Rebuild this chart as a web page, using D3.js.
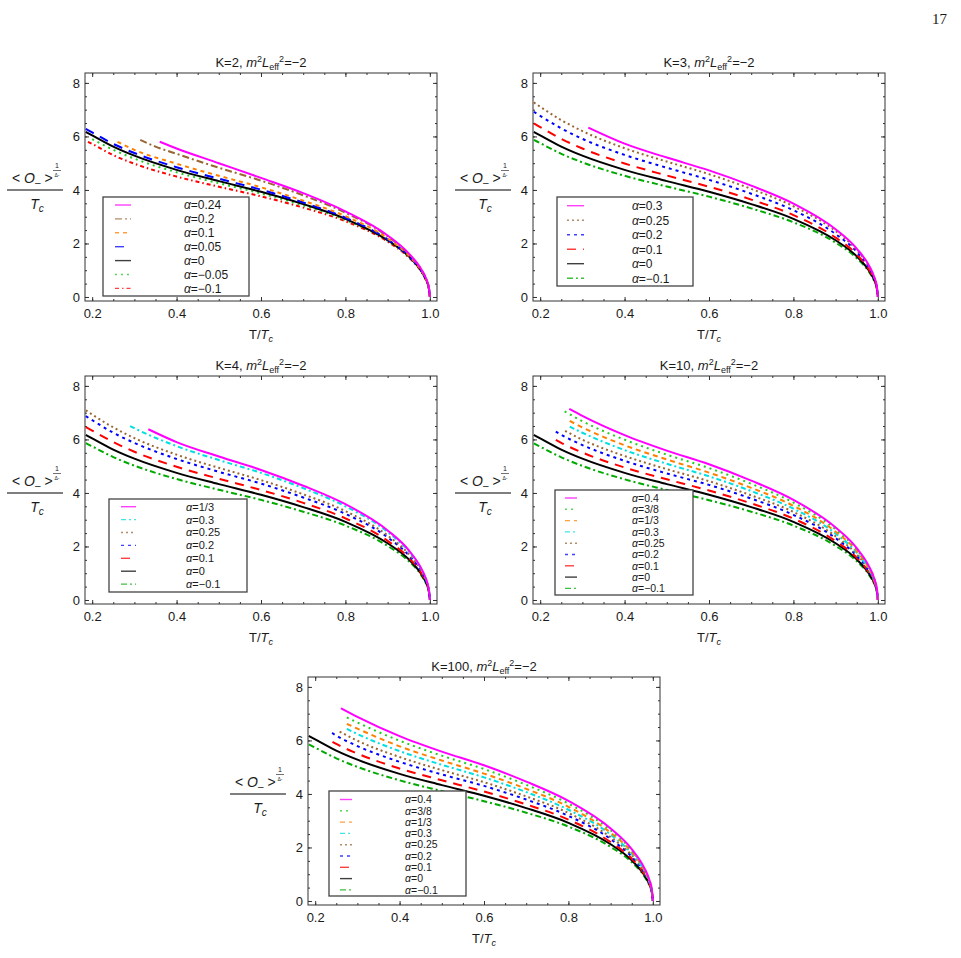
<!DOCTYPE html>
<html>
<head>
<meta charset="utf-8">
<script src="https://cdn.jsdelivr.net/npm/d3@7"></script>
<style>
body { margin: 0; background: #fff; }
svg text { font-family: "Liberation Sans", Arial, sans-serif; fill: #1a1a1a; }
</style>
</head>
<body>
<svg id="chart" width="961" height="958"></svg>
<script>
// ticks
var xTicks = [0.2, 0.4, 0.6, 0.8, 1.0];
var yTicks = [0, 2, 4, 6, 8];

// alpha = 0 curve (same in every panel)
var alpha0 = [[0.185,6.17],[0.2,6.04],[0.25,5.62],[0.3,5.28],[0.4,4.75],[0.5,4.33],[0.6,3.93],[0.7,3.47],[0.8,2.92],[0.9,2.12],[0.95,1.52],[0.98,0.96],[0.99,0.68],[0.998,0.3],[1,0]];

// K=2
var k2_a024 = [[0.36,5.8],[0.4,5.55],[0.5,5.0],[0.6,4.45],[0.7,3.88],[0.8,3.2],[0.9,2.3],[0.95,1.63],[0.98,1.03],[0.99,0.73],[0.998,0.33],[1,0]];
var k2_a02 = [[0.314,5.87],[0.35,5.62],[0.4,5.35],[0.5,4.83],[0.6,4.35],[0.7,3.8],[0.8,3.15],[0.9,2.27],[0.95,1.6],[0.98,1.01],[0.99,0.72],[0.998,0.32],[1,0]];
var k2_a01 = [[0.26,5.8],[0.3,5.5],[0.4,4.98],[0.5,4.53],[0.6,4.1],[0.7,3.6],[0.8,3.02],[0.9,2.19],[0.95,1.55],[0.98,0.98],[0.99,0.7],[0.998,0.31],[1,0]];
var k2_a005 = [[0.185,6.28],[0.2,6.15],[0.25,5.72],[0.3,5.38],[0.4,4.85],[0.5,4.42],[0.6,4.01],[0.7,3.53],[0.8,2.96],[0.9,2.15],[0.95,1.53],[0.98,0.97],[0.99,0.69],[0.998,0.3],[1,0]];
var k2_am005 = [[0.2,5.9],[0.25,5.5],[0.3,5.17],[0.4,4.66],[0.5,4.25],[0.6,3.87],[0.7,3.42],[0.8,2.88],[0.9,2.1],[0.95,1.5],[0.98,0.95],[0.99,0.67],[0.998,0.3],[1,0]];
var k2_am01 = [[0.19,5.8],[0.2,5.72],[0.25,5.3],[0.3,4.98],[0.4,4.5],[0.5,4.12],[0.6,3.76],[0.7,3.34],[0.8,2.83],[0.9,2.07],[0.95,1.48],[0.98,0.94],[0.99,0.66],[0.998,0.29],[1,0]];

// K=3
var k3_a03 = [[0.314,6.33],[0.4,5.73],[0.5,5.21],[0.6,4.73],[0.7,4.16],[0.8,3.49],[0.9,2.53],[0.95,1.81],[0.98,1.15],[0.99,0.81],[0.998,0.36],[1,0]];
var k3_a025 = [[0.185,7.27],[0.2,7.11],[0.25,6.61],[0.3,6.2],[0.4,5.56],[0.5,5.06],[0.6,4.59],[0.7,4.04],[0.8,3.39],[0.9,2.46],[0.95,1.76],[0.98,1.11],[0.99,0.79],[0.998,0.35],[1,0]];
var k3_a02 = [[0.185,6.92],[0.2,6.77],[0.25,6.3],[0.3,5.91],[0.4,5.31],[0.5,4.83],[0.6,4.38],[0.7,3.86],[0.8,3.24],[0.9,2.35],[0.95,1.69],[0.98,1.07],[0.99,0.76],[0.998,0.33],[1,0]];
var k3_a01 = [[0.185,6.49],[0.2,6.35],[0.25,5.91],[0.3,5.55],[0.4,4.99],[0.5,4.54],[0.6,4.12],[0.7,3.64],[0.8,3.06],[0.9,2.22],[0.95,1.59],[0.98,1.0],[0.99,0.71],[0.998,0.31],[1,0]];
var k3_am01 = [[0.185,5.87],[0.2,5.75],[0.25,5.35],[0.3,5.03],[0.4,4.53],[0.5,4.13],[0.6,3.75],[0.7,3.31],[0.8,2.79],[0.9,2.03],[0.95,1.45],[0.98,0.92],[0.99,0.65],[0.998,0.29],[1,0]];

// K=4
var k4_a13 = [[0.333,6.38],[0.4,5.9],[0.5,5.36],[0.6,4.86],[0.7,4.27],[0.8,3.58],[0.9,2.6],[0.95,1.86],[0.98,1.17],[0.99,0.83],[0.998,0.37],[1,0]];
var k4_a03 = [[0.29,6.5],[0.3,6.42],[0.4,5.75],[0.5,5.23],[0.6,4.75],[0.7,4.18],[0.8,3.5],[0.9,2.54],[0.95,1.82],[0.98,1.15],[0.99,0.81],[0.998,0.36],[1,0]];
var k4_a025 = [[0.185,7.09],[0.2,6.93],[0.25,6.45],[0.3,6.05],[0.4,5.43],[0.5,4.94],[0.6,4.48],[0.7,3.95],[0.8,3.32],[0.9,2.41],[0.95,1.72],[0.98,1.09],[0.99,0.77],[0.998,0.34],[1,0]];
var k4_a02 = [[0.185,6.87],[0.2,6.72],[0.25,6.25],[0.3,5.87],[0.4,5.27],[0.5,4.79],[0.6,4.35],[0.7,3.83],[0.8,3.22],[0.9,2.34],[0.95,1.67],[0.98,1.06],[0.99,0.75],[0.998,0.33],[1,0]];
var k4_a01 = [[0.185,6.46],[0.2,6.33],[0.25,5.9],[0.3,5.54],[0.4,4.98],[0.5,4.53],[0.6,4.11],[0.7,3.63],[0.8,3.05],[0.9,2.21],[0.95,1.58],[0.98,1.0],[0.99,0.71],[0.998,0.31],[1,0]];
var k4_am01 = [[0.185,5.86],[0.2,5.74],[0.25,5.34],[0.3,5.02],[0.4,4.52],[0.5,4.12],[0.6,3.74],[0.7,3.3],[0.8,2.78],[0.9,2.02],[0.95,1.45],[0.98,0.92],[0.99,0.65],[0.998,0.29],[1,0]];

// K=10
var k10_a04 = [[0.269,7.14],[0.3,6.88],[0.4,6.16],[0.5,5.58],[0.6,5.07],[0.7,4.46],[0.8,3.74],[0.9,2.71],[0.95,1.94],[0.98,1.23],[0.99,0.87],[0.998,0.39],[1,0]];
var k10_a38 = [[0.258,7.05],[0.3,6.68],[0.4,5.99],[0.5,5.43],[0.6,4.93],[0.7,4.34],[0.8,3.64],[0.9,2.64],[0.95,1.89],[0.98,1.19],[0.99,0.85],[0.998,0.38],[1,0]];
var k10_a13 = [[0.27,6.69],[0.3,6.45],[0.4,5.78],[0.5,5.25],[0.6,4.76],[0.7,4.19],[0.8,3.52],[0.9,2.55],[0.95,1.83],[0.98,1.15],[0.99,0.82],[0.998,0.36],[1,0]];
var k10_a03 = [[0.27,6.48],[0.3,6.25],[0.4,5.6],[0.5,5.09],[0.6,4.62],[0.7,4.07],[0.8,3.41],[0.9,2.48],[0.95,1.77],[0.98,1.12],[0.99,0.79],[0.998,0.35],[1,0]];
var k10_a025 = [[0.259,6.32],[0.3,5.99],[0.4,5.38],[0.5,4.89],[0.6,4.44],[0.7,3.91],[0.8,3.29],[0.9,2.38],[0.95,1.71],[0.98,1.08],[0.99,0.76],[0.998,0.34],[1,0]];
var k10_a02 = [[0.237,6.29],[0.25,6.17],[0.3,5.79],[0.4,5.2],[0.5,4.73],[0.6,4.3],[0.7,3.79],[0.8,3.18],[0.9,2.31],[0.95,1.65],[0.98,1.05],[0.99,0.74],[0.998,0.33],[1,0]];
var k10_a01 = [[0.237,5.98],[0.25,5.87],[0.3,5.51],[0.4,4.95],[0.5,4.51],[0.6,4.09],[0.7,3.61],[0.8,3.04],[0.9,2.2],[0.95,1.58],[0.98,1.0],[0.99,0.71],[0.998,0.31],[1,0]];
var k10_am01 = [[0.185,5.85],[0.2,5.73],[0.25,5.33],[0.3,5.01],[0.4,4.51],[0.5,4.11],[0.6,3.73],[0.7,3.3],[0.8,2.78],[0.9,2.02],[0.95,1.45],[0.98,0.92],[0.99,0.65],[0.998,0.29],[1,0]];

// K=100
var k100_a04 = [[0.261,7.2],[0.3,6.88],[0.4,6.16],[0.5,5.58],[0.6,5.07],[0.7,4.46],[0.8,3.74],[0.9,2.71],[0.95,1.94],[0.98,1.23],[0.99,0.87],[0.998,0.39],[1,0]];
var k100_a38 = [[0.275,6.86],[0.3,6.67],[0.4,5.99],[0.5,5.43],[0.6,4.93],[0.7,4.34],[0.8,3.64],[0.9,2.64],[0.95,1.89],[0.98,1.19],[0.99,0.85],[0.998,0.38],[1,0]];
var k100_a13 = [[0.275,6.62],[0.3,6.44],[0.4,5.78],[0.5,5.25],[0.6,4.76],[0.7,4.19],[0.8,3.52],[0.9,2.55],[0.95,1.83],[0.98,1.15],[0.99,0.82],[0.998,0.36],[1,0]];
var k100_a03 = [[0.275,6.43],[0.3,6.24],[0.4,5.6],[0.5,5.09],[0.6,4.62],[0.7,4.07],[0.8,3.41],[0.9,2.48],[0.95,1.77],[0.98,1.12],[0.99,0.79],[0.998,0.35],[1,0]];
var k100_a025 = [[0.258,6.33],[0.3,5.99],[0.4,5.38],[0.5,4.89],[0.6,4.44],[0.7,3.91],[0.8,3.29],[0.9,2.38],[0.95,1.71],[0.98,1.08],[0.99,0.76],[0.998,0.34],[1,0]];
var k100_a02 = [[0.24,6.28],[0.25,6.18],[0.3,5.79],[0.4,5.2],[0.5,4.73],[0.6,4.3],[0.7,3.79],[0.8,3.18],[0.9,2.31],[0.95,1.65],[0.98,1.05],[0.99,0.74],[0.998,0.33],[1,0]];
var k100_a01 = [[0.241,5.95],[0.25,5.87],[0.3,5.51],[0.4,4.95],[0.5,4.51],[0.6,4.09],[0.7,3.61],[0.8,3.04],[0.9,2.2],[0.95,1.58],[0.98,1.0],[0.99,0.71],[0.998,0.31],[1,0]];
var k100_am01 = [[0.185,5.85],[0.2,5.73],[0.25,5.33],[0.3,5.01],[0.4,4.51],[0.5,4.11],[0.6,3.73],[0.7,3.3],[0.8,2.78],[0.9,2.02],[0.95,1.45],[0.98,0.92],[0.99,0.65],[0.998,0.29],[1,0]];

var W = 352, H = 228;
var xDomain = [0.183, 1.017], yDomain = [-0.15, 8.37];

var MAG = "#ff00ff", BRN = "#996633", ORG = "#ff8000", BLU = "#0000ff",
    BLK = "#000000", GRN = "#00aa00", LGRN = "#22cc22", RED = "#ff0000", CYN = "#00e0e0";
var SOLID = null, LDASH = "9,7", DOT = "2,3", BDOT = "3,4", DDOT = "6,3,2,3";

var panels = [
  { k: "2", left: 85, top: 73,
    legend: {x: 18, y: 124, w: 146, h: 99, r0: 132, rh: 13.9, s0: 30, s1: 46, tx: 99, fs: 12},
    series: [
      {d: k2_a024, c: MAG, dash: SOLID, lab: "0.24"},
      {d: k2_a02, c: BRN, dash: "7,3,2,3", lab: "0.2"},
      {d: k2_a01, c: ORG, dash: "4,4", lab: "0.1"},
      {d: k2_a005, c: BLU, dash: LDASH, lab: "0.05"},
      {d: alpha0, c: BLK, dash: SOLID, lab: "0"},
      {d: k2_am005, c: LGRN, dash: "2,4", lab: "\u22120.05"},
      {d: k2_am01, c: RED, dash: "4,3,1.5,3", lab: "\u22120.1"}
    ]},
  { k: "3", left: 533, top: 73,
    legend: {x: 24, y: 124, w: 136, h: 89, r0: 132.7, rh: 14.5, s0: 34, s1: 51, tx: 99, fs: 12},
    series: [
      {d: k3_a03, c: MAG, dash: SOLID, lab: "0.3"},
      {d: k3_a025, c: BRN, dash: DOT, lab: "0.25"},
      {d: k3_a02, c: BLU, dash: BDOT, lab: "0.2"},
      {d: k3_a01, c: RED, dash: LDASH, lab: "0.1"},
      {d: alpha0, c: BLK, dash: SOLID, lab: "0"},
      {d: k3_am01, c: GRN, dash: DDOT, lab: "\u22120.1"}
    ]},
  { k: "4", left: 85, top: 376,
    legend: {x: 24, y: 123, w: 138, h: 93, r0: 130.7, rh: 12.9, s0: 36, s1: 51, tx: 101, fs: 11},
    series: [
      {d: k4_a13, c: MAG, dash: SOLID, lab: "1/3"},
      {d: k4_a03, c: CYN, dash: "5,3,2,3", lab: "0.3"},
      {d: k4_a025, c: BRN, dash: DOT, lab: "0.25"},
      {d: k4_a02, c: BLU, dash: BDOT, lab: "0.2"},
      {d: k4_a01, c: RED, dash: LDASH, lab: "0.1"},
      {d: alpha0, c: BLK, dash: SOLID, lab: "0"},
      {d: k4_am01, c: GRN, dash: DDOT, lab: "\u22120.1"}
    ]},
  { k: "10", left: 533, top: 376,
    legend: {x: 22, y: 114, w: 138, h: 105, r0: 122, rh: 11.3, s0: 32, s1: 44, tx: 99, fs: 10.5},
    series: [
      {d: k10_a04, c: MAG, dash: SOLID, lab: "0.4"},
      {d: k10_a38, c: LGRN, dash: "2,4", lab: "3/8"},
      {d: k10_a13, c: ORG, dash: "5,4", lab: "1/3"},
      {d: k10_a03, c: CYN, dash: "5,3,2,3", lab: "0.3"},
      {d: k10_a025, c: BRN, dash: DOT, lab: "0.25"},
      {d: k10_a02, c: BLU, dash: BDOT, lab: "0.2"},
      {d: k10_a01, c: RED, dash: LDASH, lab: "0.1"},
      {d: alpha0, c: BLK, dash: SOLID, lab: "0"},
      {d: k10_am01, c: GRN, dash: DDOT, lab: "\u22120.1"}
    ]},
  { k: "100", left: 308, top: 677,
    legend: {x: 21, y: 114, w: 137, h: 105, r0: 122.5, rh: 11.3, s0: 32, s1: 44, tx: 97, fs: 10.5},
    series: [
      {d: k100_a04, c: MAG, dash: SOLID, lab: "0.4"},
      {d: k100_a38, c: LGRN, dash: "2,4", lab: "3/8"},
      {d: k100_a13, c: ORG, dash: "5,4", lab: "1/3"},
      {d: k100_a03, c: CYN, dash: "5,3,2,3", lab: "0.3"},
      {d: k100_a025, c: BRN, dash: DOT, lab: "0.25"},
      {d: k100_a02, c: BLU, dash: BDOT, lab: "0.2"},
      {d: k100_a01, c: RED, dash: LDASH, lab: "0.1"},
      {d: alpha0, c: BLK, dash: SOLID, lab: "0"},
      {d: k100_am01, c: GRN, dash: DDOT, lab: "\u22120.1"}
    ]}
];

var svg = d3.select("#chart");
var defs = svg.append("defs");

svg.append("text")
    .attr("x", 947).attr("y", 24)
    .attr("text-anchor", "end")
    .style("font-family", "'Liberation Serif', 'DejaVu Serif', serif")
    .style("font-size", "15px")
    .text("17");

function styleAxis(sel) {
  sel.select(".domain").remove();
  sel.selectAll("line").attr("stroke", "#333");
  sel.selectAll("text").style("font-size", "13px").attr("fill", "#1a1a1a");
}

function drawPanel(p, idx) {
  var g = svg.append("g").attr("transform", "translate(" + p.left + "," + p.top + ")");
  var x = d3.scaleLinear().domain(xDomain).range([0, W]);
  var y = d3.scaleLinear().domain(yDomain).range([H, 0]);
  var xMinor = d3.range(0.2, 1.0001, 0.05);
  var yMinor = d3.range(0, 8.0001, 0.5);

  defs.append("clipPath").attr("id", "clip" + idx)
    .append("rect").attr("width", W).attr("height", H);

  // minor ticks on all four sides
  g.append("g").attr("transform", "translate(0," + H + ")")
      .call(d3.axisBottom(x).tickValues(xMinor).tickSize(-2).tickFormat("")).call(styleAxis);
  g.append("g").call(d3.axisTop(x).tickValues(xMinor).tickSize(-2).tickFormat("")).call(styleAxis);
  g.append("g").call(d3.axisLeft(y).tickValues(yMinor).tickSize(-2).tickFormat("")).call(styleAxis);
  g.append("g").attr("transform", "translate(" + W + ",0)")
      .call(d3.axisRight(y).tickValues(yMinor).tickSize(-2).tickFormat("")).call(styleAxis);

  // major ticks
  g.append("g").attr("transform", "translate(0," + H + ")")
      .call(d3.axisBottom(x).tickValues(xTicks).tickSize(-4).tickPadding(8).tickFormat(d3.format(".1f")))
      .call(styleAxis);
  g.append("g").call(d3.axisTop(x).tickValues(xTicks).tickSize(-4).tickFormat("")).call(styleAxis);
  g.append("g")
      .call(d3.axisLeft(y).tickValues(yTicks).tickSize(-4).tickPadding(5).tickFormat(d3.format("d")))
      .call(styleAxis);
  g.append("g").attr("transform", "translate(" + W + ",0)")
      .call(d3.axisRight(y).tickValues(yTicks).tickSize(-4).tickFormat("")).call(styleAxis);

  g.append("rect").attr("width", W).attr("height", H)
      .attr("fill", "none").attr("stroke", "#333").attr("stroke-width", 1);

  var line = d3.line()
      .x(function(d) { return x(d[0]); })
      .y(function(d) { return y(d[1]); })
      .curve(d3.curveMonotoneX);

  var curves = g.append("g").attr("clip-path", "url(#clip" + idx + ")");
  p.series.slice().reverse().forEach(function(s) {
    curves.append("path")
        .datum(s.d)
        .attr("d", line)
        .attr("fill", "none")
        .attr("stroke", s.c)
        .attr("stroke-width", 2)
        .attr("stroke-dasharray", s.dash);
  });

  // legend
  var L = p.legend;
  var lg = g.append("g");
  lg.append("rect").attr("x", L.x).attr("y", L.y).attr("width", L.w).attr("height", L.h)
      .attr("fill", "#fff").attr("stroke", "#444").attr("stroke-width", 1.3);
  p.series.forEach(function(s, i) {
    var ry = L.r0 + i * L.rh;
    lg.append("line")
        .attr("x1", L.s0).attr("x2", L.s1).attr("y1", ry).attr("y2", ry)
        .attr("stroke", s.c).attr("stroke-width", 1.4).attr("opacity", 0.75)
        .attr("stroke-dasharray", s.dash);
    var t = lg.append("text").attr("x", L.tx).attr("y", ry + L.fs * 0.36)
        .style("font-size", L.fs + "px");
    t.append("tspan").style("font-style", "italic").text("\u03b1");
    t.append("tspan").text("=" + s.lab);
  });

  // title
  var tt = g.append("text").attr("x", W / 2).attr("y", -6)
      .attr("text-anchor", "middle").style("font-size", "13px");
  tt.append("tspan").text("K=" + p.k + ", ");
  tt.append("tspan").style("font-style", "italic").text("m");
  tt.append("tspan").attr("dy", -5).style("font-size", "9px").text("2");
  tt.append("tspan").attr("dy", 5).style("font-style", "italic").text("L");
  tt.append("tspan").attr("dy", 3).style("font-size", "9px").text("eff");
  tt.append("tspan").attr("dy", -8).style("font-size", "9px").text("2");
  tt.append("tspan").attr("dy", 5).text("=\u22122");

  // x label
  var xl = g.append("text").attr("x", W / 2).attr("y", H + 38)
      .attr("text-anchor", "middle").style("font-size", "13px");
  xl.append("tspan").text("T/");
  xl.append("tspan").style("font-style", "italic").text("T");
  xl.append("tspan").attr("dy", 3).style("font-style", "italic").style("font-size", "9px").text("c");

  // y label
  var yl = g.append("g").attr("transform", "translate(-48,117)");
  var num = yl.append("text").attr("x", -25).attr("y", -7).style("font-size", "14px");
  num.append("tspan").text("< ");
  num.append("tspan").style("font-style", "italic").text("O");
  num.append("tspan").attr("dy", 3).style("font-size", "10px").text("\u2013");
  num.append("tspan").attr("dy", -3).text(" >");
  yl.append("text").attr("x", 20).attr("y", -22).attr("text-anchor", "middle")
      .style("font-size", "7px").text("1");
  yl.append("line").attr("x1", 16).attr("x2", 24).attr("y1", -19.5).attr("y2", -19.5)
      .attr("stroke", "#333").attr("stroke-width", 0.7);
  yl.append("text").attr("x", 20).attr("y", -13.5).attr("text-anchor", "middle")
      .style("font-size", "5px").text("\u0394-");
  yl.append("line").attr("x1", -30).attr("x2", 26).attr("y1", 0).attr("y2", 0)
      .attr("stroke", "#555").attr("stroke-width", 1.6);
  var den = yl.append("text").attr("x", 0).attr("y", 19).attr("text-anchor", "middle")
      .style("font-size", "14px").style("font-style", "italic");
  den.append("tspan").text("T");
  den.append("tspan").attr("dy", 3).style("font-size", "10px").text("c");
}

panels.forEach(drawPanel);
</script>
</body>
</html>
